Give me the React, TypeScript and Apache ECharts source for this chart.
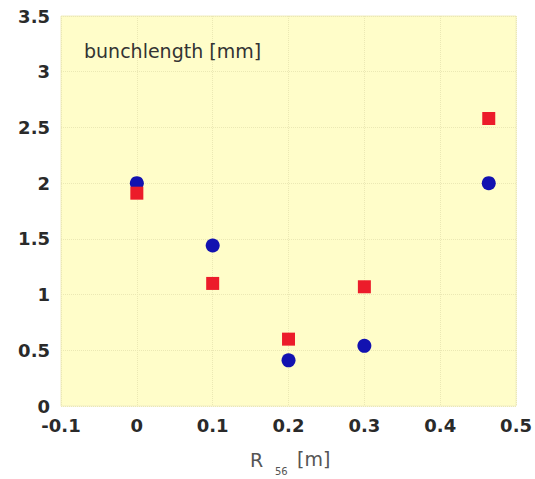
import React, { useEffect, useRef } from "react";
import * as echarts from "echarts";

const xBlue = [0, 0.1, 0.2, 0.3, 0.464];
const yBlue = [2.0, 1.44, 0.41, 0.54, 2.0];
const xRed = [0, 0.1, 0.2, 0.3, 0.464];
const yRed = [1.91, 1.1, 0.6, 1.07, 2.58];
const xTicks = [-0.1, 0, 0.1, 0.2, 0.3, 0.4, 0.5];
const yTicks = [0, 0.5, 1, 1.5, 2, 2.5, 3, 3.5];
const titleText = "bunchlength [mm]";
const xNameMain = "R";
const xNameSub = "56";
const xNameUnit = "[m]";

const FONT = "DejaVu Sans, Verdana, sans-serif";

export default function App() {
  const ref = useRef<HTMLDivElement>(null);
  useEffect(() => {
    if (!ref.current) return;
    const chart = echarts.init(ref.current, undefined, { renderer: "svg" });
    const fmt = (v: number) => String(Math.round(v * 10) / 10);
    chart.setOption({
      animation: false,
      backgroundColor: "#ffffff",
      textStyle: { fontFamily: FONT },
      grid: {
        left: 61,
        right: 18,
        top: 16,
        bottom: 73,
        show: true,
        backgroundColor: "#fffdc9",
        borderColor: "#f0edc0",
        borderWidth: 1,
      },
      title: {
        text: titleText,
        left: 79,
        top: 36,
        textStyle: {
          fontSize: 19,
          fontWeight: "normal",
          color: "#333333",
          fontFamily: FONT,
        },
      },
      graphic: [
        {
          type: "text",
          left: 250,
          top: 450,
          style: { text: xNameMain, fontSize: 19, fill: "#555555", fontFamily: FONT },
        },
        {
          type: "text",
          left: 275,
          top: 466,
          style: { text: xNameSub, fontSize: 10, fill: "#555555", fontFamily: FONT },
        },
        {
          type: "text",
          left: 297,
          top: 449,
          style: { text: xNameUnit, fontSize: 19, fill: "#555555", fontFamily: FONT },
        },
      ],
      xAxis: {
        type: "value",
        min: xTicks[0],
        max: xTicks[xTicks.length - 1],
        interval: 0.1,
        axisLine: { show: false },
        axisTick: { show: false },
        splitLine: { show: true, lineStyle: { color: "#ebe8b4", width: 1, type: "dotted" } },
        axisLabel: {
          formatter: fmt,
          fontSize: 18,
          fontWeight: "bold",
          color: "#2a2a2a",
          fontFamily: FONT,
          margin: 10,
        },
      },
      yAxis: {
        type: "value",
        min: yTicks[0],
        max: yTicks[yTicks.length - 1],
        interval: 0.5,
        axisLine: { show: false },
        axisTick: { show: false },
        splitLine: { show: true, lineStyle: { color: "#ebe8b4", width: 1, type: "dotted" } },
        axisLabel: {
          formatter: fmt,
          fontSize: 18,
          fontWeight: "bold",
          color: "#2a2a2a",
          fontFamily: FONT,
          margin: 11,
        },
      },
      series: [
        {
          type: "scatter",
          name: "blue",
          symbol: "circle",
          symbolSize: 14,
          itemStyle: { color: "#1212b0", opacity: 1 },
          data: xBlue.map((x, i) => [x, yBlue[i]]),
          z: 2,
        },
        {
          type: "scatter",
          name: "red",
          symbol: "rect",
          symbolSize: 13,
          itemStyle: { color: "#ec1c2a", opacity: 1 },
          data: xRed.map((x, i) => [x, yRed[i]]),
          z: 3,
        },
      ],
    });
    return () => chart.dispose();
  }, []);
  return (
    <div
      ref={ref}
      style={{ position: "fixed", left: 0, top: 0, width: 535, height: 479 }}
    />
  );
}
